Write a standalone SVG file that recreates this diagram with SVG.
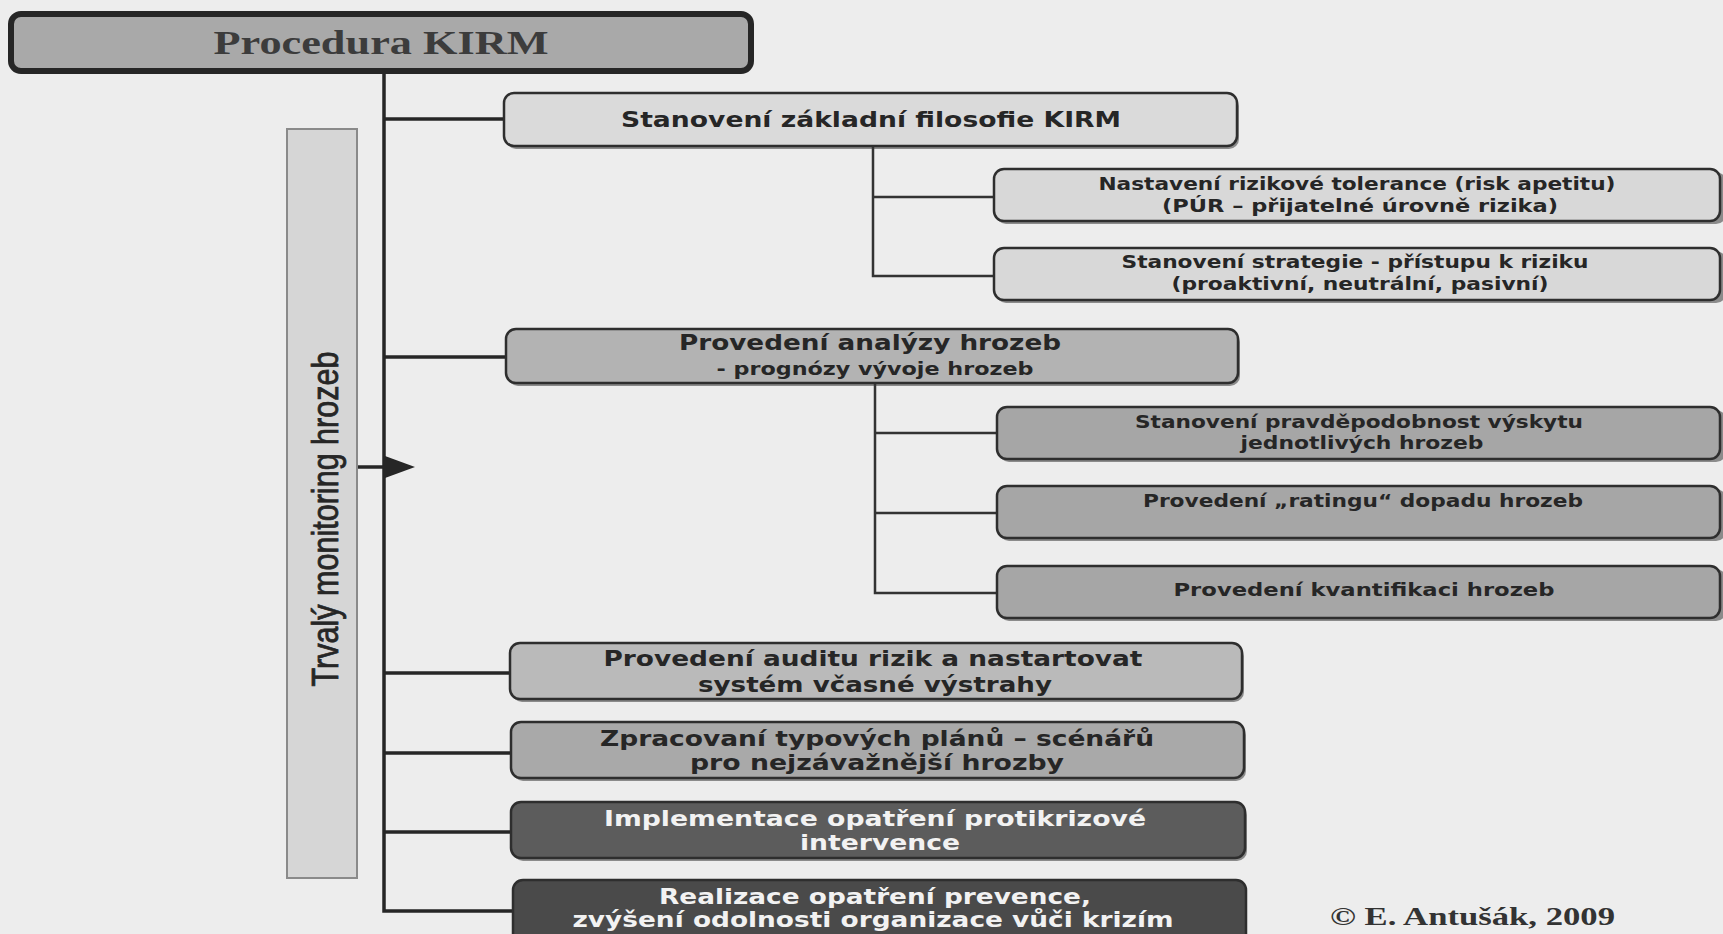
<svg xmlns="http://www.w3.org/2000/svg" width="1723" height="934" viewBox="0 0 1723 934">
<style>
.bx{stroke:#2e2e2e;stroke-width:2.5}
.sh{fill:#3a3a3a;opacity:0.55}
.t{font-family:"DejaVu Sans","Liberation Sans",sans-serif;font-weight:bold;fill:#262626;text-anchor:middle}
.tw{fill:#f2f2f2}
.s16{font-size:17px}
.s19{font-size:21px}
.s20{font-size:22px}
.con{stroke:#262626;stroke-width:3.5;fill:none}
.con2{stroke:#333;stroke-width:2.5;fill:none}
.serif{font-family:"Liberation Serif","Times New Roman",serif;font-weight:bold}
</style>
<rect width="1723" height="934" fill="#ededed"/>

<g id="connectors">
<polyline class="con" points="384,71 384,911 513,911"/>
<line class="con" x1="384" y1="119" x2="504" y2="119"/>
<line class="con" x1="384" y1="357" x2="506" y2="357"/>
<line class="con" x1="384" y1="673" x2="510" y2="673"/>
<line class="con" x1="384" y1="753" x2="511" y2="753"/>
<line class="con" x1="384" y1="832" x2="511" y2="832"/>
<polyline class="con2" points="873,146 873,276 994,276"/>
<line class="con2" x1="873" y1="197" x2="994" y2="197"/>
<polyline class="con2" points="875,383 875,593 997,593"/>
<line class="con2" x1="875" y1="433" x2="997" y2="433"/>
<line class="con2" x1="875" y1="513" x2="997" y2="513"/>
<line class="con" x1="357" y1="467" x2="388" y2="467"/>
<polygon points="385,456 415,467 385,478" fill="#262626"/>
</g>

<g id="title">
<rect x="11" y="14" width="740" height="57" rx="10" fill="#a9a9a9" stroke="#262626" stroke-width="6"/>
<text class="serif" x="381" y="54" font-size="33" fill="#3c3c3c" text-anchor="middle" textLength="335" lengthAdjust="spacingAndGlyphs">Procedura KIRM</text>
</g>

<g id="monitoring">
<rect x="287" y="129" width="70" height="749" fill="#d6d6d6" stroke="#8a8a8a" stroke-width="2"/>
<text transform="translate(338,519) rotate(-90) scale(1,1.3)" font-family="'Liberation Sans',sans-serif" font-size="28" fill="#262626" stroke="#262626" stroke-width="0.6" text-anchor="middle" textLength="335" lengthAdjust="spacingAndGlyphs">Trvalý monitoring hrozeb</text>
</g>

<g id="n1">
<rect class="sh" x="506" y="96" width="733" height="53" rx="10"/>
<rect class="bx" x="504" y="93" width="733" height="53" rx="10" fill="#dadada"/>
<text class="t s20" x="871" y="127" textLength="500" lengthAdjust="spacingAndGlyphs">Stanovení základní filosofie KIRM</text>
</g>

<g id="n1a">
<rect class="sh" x="996" y="172" width="730" height="52" rx="10"/>
<rect class="bx" x="994" y="169" width="726" height="52" rx="10" fill="#d8d8d8"/>
<text class="t s16" x="1357" y="190" textLength="517" lengthAdjust="spacingAndGlyphs">Nastavení rizikové tolerance (risk apetitu)</text>
<text class="t s16" x="1360" y="212" textLength="396" lengthAdjust="spacingAndGlyphs">(PÚR – přijatelné úrovně rizika)</text>
</g>

<g id="n1b">
<rect class="sh" x="996" y="251" width="730" height="52" rx="10"/>
<rect class="bx" x="994" y="248" width="726" height="52" rx="10" fill="#d8d8d8"/>
<text class="t s16" x="1355" y="268" textLength="467" lengthAdjust="spacingAndGlyphs">Stanovení strategie - přístupu k riziku</text>
<text class="t s16" x="1360" y="290" textLength="377" lengthAdjust="spacingAndGlyphs">(proaktivní, neutrální, pasivní)</text>
</g>

<g id="n2">
<rect class="sh" x="508" y="332" width="732" height="54" rx="10"/>
<rect class="bx" x="506" y="329" width="732" height="54" rx="10" fill="#b3b3b3"/>
<text class="t s19" x="870" y="350" textLength="382" lengthAdjust="spacingAndGlyphs">Provedení analýzy hrozeb</text>
<text class="t s16" x="875" y="375" textLength="317" lengthAdjust="spacingAndGlyphs">- prognózy vývoje hrozeb</text>
</g>

<g id="n2a">
<rect class="sh" x="999" y="410" width="727" height="52" rx="10"/>
<rect class="bx" x="997" y="407" width="723" height="52" rx="10" fill="#a6a6a6"/>
<text class="t s16" x="1359" y="428" textLength="448" lengthAdjust="spacingAndGlyphs">Stanovení pravděpodobnost výskytu</text>
<text class="t s16" x="1362" y="449" textLength="243" lengthAdjust="spacingAndGlyphs">jednotlivých hrozeb</text>
</g>

<g id="n2b">
<rect class="sh" x="999" y="489" width="727" height="52" rx="10"/>
<rect class="bx" x="997" y="486" width="723" height="52" rx="10" fill="#a6a6a6"/>
<text class="t s16" x="1363" y="507" textLength="440" lengthAdjust="spacingAndGlyphs">Provedení „ratingu“ dopadu hrozeb</text>
</g>

<g id="n2c">
<rect class="sh" x="999" y="569" width="727" height="52" rx="10"/>
<rect class="bx" x="997" y="566" width="723" height="52" rx="10" fill="#a6a6a6"/>
<text class="t s16" x="1364" y="596" textLength="381" lengthAdjust="spacingAndGlyphs">Provedení  kvantifikaci hrozeb</text>
</g>

<g id="n3">
<rect class="sh" x="512" y="646" width="732" height="56" rx="10"/>
<rect class="bx" x="510" y="643" width="732" height="56" rx="10" fill="#bababa"/>
<text class="t s20" x="873" y="666" textLength="539" lengthAdjust="spacingAndGlyphs">Provedení auditu rizik a nastartovat</text>
<text class="t s20" x="875" y="692" textLength="354" lengthAdjust="spacingAndGlyphs">systém včasné výstrahy</text>
</g>

<g id="n4">
<rect class="sh" x="513" y="725" width="733" height="56" rx="10"/>
<rect class="bx" x="511" y="722" width="733" height="56" rx="10" fill="#a9a9a9"/>
<text class="t s20" x="877" y="746" textLength="554" lengthAdjust="spacingAndGlyphs">Zpracovaní typových plánů – scénářů</text>
<text class="t s20" x="877" y="770" textLength="374" lengthAdjust="spacingAndGlyphs">pro nejzávažnější hrozby</text>
</g>

<g id="n5">
<rect class="sh" x="513" y="805" width="734" height="56" rx="10"/>
<rect class="bx" x="511" y="802" width="734" height="56" rx="10" fill="#5c5c5c"/>
<text class="t tw s20" x="875" y="826" textLength="542" lengthAdjust="spacingAndGlyphs">Implementace opatření protikrizové</text>
<text class="t tw s20" x="880" y="850" textLength="160" lengthAdjust="spacingAndGlyphs">intervence</text>
</g>

<g id="n6">
<rect class="bx" x="513" y="880" width="733" height="70" rx="10" fill="#4a4a4a"/>
<text class="t tw s20" x="875" y="904" textLength="432" lengthAdjust="spacingAndGlyphs">Realizace opatření prevence,</text>
<text class="t tw s20" x="873" y="927" textLength="601" lengthAdjust="spacingAndGlyphs">zvýšení odolnosti organizace vůči krizím</text>
</g>

<g id="copyright">
<text class="serif" x="1330" y="925" font-size="26" fill="#333" textLength="285" lengthAdjust="spacingAndGlyphs">© E. Antušák, 2009</text>
</g>
</svg>
